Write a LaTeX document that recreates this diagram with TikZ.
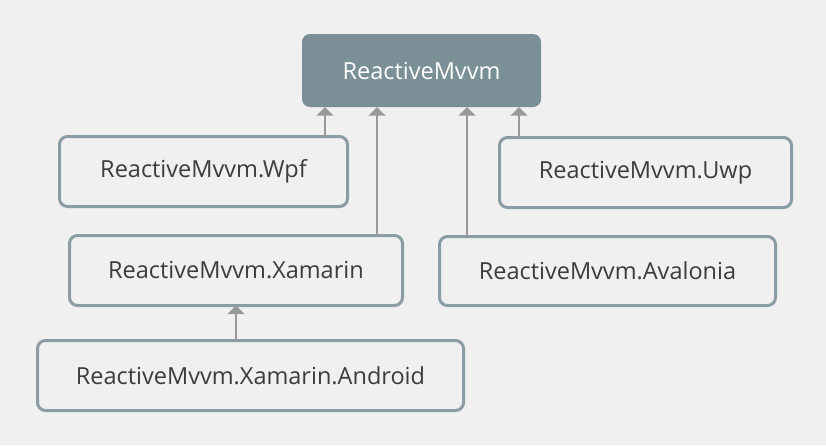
\documentclass[tikz,border=0pt]{standalone}
\usepackage{fontspec}
\setmainfont{Open Sans}
\usetikzlibrary{arrows.meta}
\definecolor{bg}{HTML}{F0F0F0}
\definecolor{bord}{HTML}{8A9DA5}
\definecolor{topfill}{HTML}{7A9096}
\definecolor{txt}{HTML}{3C3C3C}
\definecolor{arr}{HTML}{999999}
\tikzset{
  box/.style={draw=bord, line width=3pt, fill=bg, rounded corners=8pt, text=txt,
    font=\fontsize{23.5}{28}\selectfont, inner sep=0pt},
  topbox/.style={fill=topfill, rounded corners=8pt, text=white,
    font=\fontsize{23.5}{28}\selectfont, inner sep=0pt},
  dep/.style={draw=arr, line width=2pt, -{Triangle[width=17pt,length=8.5pt]}}
}
\begin{document}
\begin{tikzpicture}[x=1pt,y=-1pt]
\fill[bg] (0,0) rectangle (826,445);
\useasboundingbox (0,0) rectangle (826,445);
\node[topbox, minimum width=239pt, minimum height=73pt] (top) at (421.5,70.5) {ReactiveMvvm};
\node[box, minimum width=288pt, minimum height=70pt] (wpf) at (203.5,171.5) {ReactiveMvvm.Wpf};
\node[box, minimum width=292pt, minimum height=70pt] (uwp) at (645.5,172.5) {ReactiveMvvm.Uwp};
\node[box, minimum width=333pt, minimum height=70pt] (xam) at (236,270.5) {ReactiveMvvm.Xamarin};
\node[box, minimum width=336pt, minimum height=69pt] (ava) at (607.5,271) {ReactiveMvvm.Avalonia};
\node[box, minimum width=426pt, minimum height=70pt] (and) at (250.5,375.5) {ReactiveMvvm.Xamarin.Android};
\coordinate (c1) at (325,0);
\coordinate (c2) at (377,0);
\coordinate (c3) at (467,0);
\coordinate (c4) at (519,0);
\coordinate (c5) at (236,0);
\draw[dep] ([yshift=-1.5pt]wpf.north -| c1) -- (top.south -| c1);
\draw[dep] ([yshift=-1.5pt]xam.north -| c2) -- (top.south -| c2);
\draw[dep] ([yshift=-1.5pt]ava.north -| c3) -- (top.south -| c3);
\draw[dep] ([yshift=-1.5pt]uwp.north -| c4) -- (top.south -| c4);
\draw[dep] ([yshift=-1.5pt]and.north -| c5) -- ([yshift=1.5pt]xam.south -| c5);
\end{tikzpicture}
\end{document}
